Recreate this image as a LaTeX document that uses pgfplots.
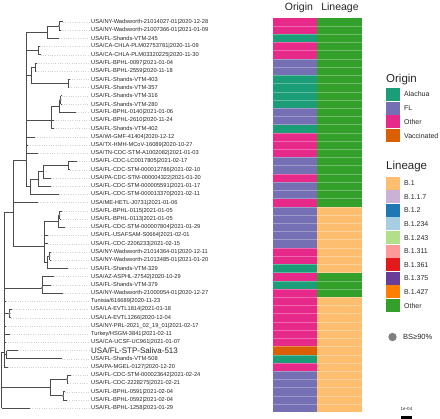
\documentclass[border=0pt]{standalone}
\usepackage{pgfplots}
\pgfplotsset{compat=1.18}
\usepackage{fontspec}
\setmainfont{Liberation Sans}
\definecolor{cAla}{HTML}{1B9E77}
\definecolor{cFL}{HTML}{7570B3}
\definecolor{cOth}{HTML}{E7298A}
\definecolor{cVac}{HTML}{D95F02}
\definecolor{lB1}{HTML}{FDBF6F}
\definecolor{lB117}{HTML}{CAB2D6}
\definecolor{lB12}{HTML}{1F78B4}
\definecolor{lB1234}{HTML}{A6CEE3}
\definecolor{lB1243}{HTML}{B2DF8A}
\definecolor{lB1311}{HTML}{FB9A99}
\definecolor{lB1361}{HTML}{E31A1C}
\definecolor{lB1375}{HTML}{6A3D9A}
\definecolor{lB1427}{HTML}{FF7F00}
\definecolor{lOth}{HTML}{33A02C}
\begin{document}
\begin{tikzpicture}
\begin{axis}[hide axis, scale only axis, width=440pt, height=419pt,
  xmin=0, xmax=440, ymin=0, ymax=419, y dir=reverse, clip=false,
  unbounded coords=jump, at={(0,0)}, anchor=south west]
% ---------- leader lines (tip -> label) ----------
\addplot[gray!35, dotted, line width=0.35pt] coordinates {
(63,21.8)(89,21.8) (nan,nan) (60.5,30.02)(89,30.02) (nan,nan) (59,38.24)(89,38.24) (nan,nan)
(39.5,46.46)(89,46.46) (nan,nan) (40.5,54.68)(89,54.68) (nan,nan) (36.5,62.9)(89,62.9) (nan,nan)
(36,71.12)(89,71.12) (nan,nan) (69.5,79.34)(89,79.34) (nan,nan) (69,87.56)(89,87.56) (nan,nan)
(61.5,95.78)(89,95.78) (nan,nan) (61.5,104)(89,104) (nan,nan) (76,112.22)(89,112.22) (nan,nan)
(53.5,120.44)(89,120.44) (nan,nan) (53.5,128.66)(89,128.66) (nan,nan) (35,136.88)(89,136.88) (nan,nan)
(27.5,145.1)(89,145.1) (nan,nan) (38,153.32)(89,153.32) (nan,nan) (77,161.54)(89,161.54) (nan,nan)
(70,169.76)(89,169.76) (nan,nan) (51,177.98)(89,177.98) (nan,nan) (51,186.2)(89,186.2) (nan,nan)
(59,194.42)(89,194.42) (nan,nan) (38,202.64)(89,202.64) (nan,nan) (61.5,210.86)(89,210.86) (nan,nan)
(61,219.08)(89,219.08) (nan,nan) (65,227.3)(89,227.3) (nan,nan) (47.5,235.52)(89,235.52) (nan,nan)
(48,243.74)(89,243.74) (nan,nan) (51,251.96)(89,251.96) (nan,nan) (50.5,260.18)(89,260.18) (nan,nan)
(68,268.4)(89,268.4) (nan,nan) (54,276.62)(89,276.62) (nan,nan) (51,284.84)(89,284.84) (nan,nan)
(63,293.06)(89,293.06) (nan,nan) (6,301.28)(89,301.28) (nan,nan) (11.5,309.5)(89,309.5) (nan,nan)
(11,317.72)(89,317.72) (nan,nan) (6,325.94)(89,325.94) (nan,nan) (9.5,334.16)(89,334.16) (nan,nan)
(5.5,342.38)(89,342.38) (nan,nan) (18,350.6)(89,350.6) (nan,nan) (62,358.82)(89,358.82) (nan,nan)
(7.5,367.04)(89,367.04) (nan,nan) (71,375.26)(89,375.26) (nan,nan) (68,383.48)(89,383.48) (nan,nan)
(64.5,391.7)(89,391.7) (nan,nan) (67,399.92)(89,399.92) (nan,nan) (30,408.14)(89,408.14)
};
% ---------- tree ----------
\addplot[black!70, line width=0.65pt] coordinates {
(1.7,352)(1.7,408.14) (nan,nan)
(1.7,352)(4,352) (nan,nan) (1.7,387.6)(50,387.6) (nan,nan) (1.7,408.14)(30,408.14) (nan,nan)
(4,212)(4,367.04) (nan,nan)
(4,212)(13,212) (nan,nan) (4,288)(42,288) (nan,nan) (4,301.28)(6,301.28) (nan,nan)
(4,313.6)(9.5,313.6) (nan,nan) (4,325.94)(6,325.94) (nan,nan) (4,334.16)(9.5,334.16) (nan,nan)
(4,342.38)(5.5,342.38) (nan,nan) (4,354.7)(6.5,354.7) (nan,nan) (4,367.04)(7.5,367.04) (nan,nan)
(13,160)(13,246) (nan,nan)
(13,160)(26,160) (nan,nan) (13,202.64)(38,202.64) (nan,nan) (13,246)(44,246) (nan,nan)
(26,32.07)(26,186.7) (nan,nan)
(26,32.07)(47,32.07) (nan,nan) (26,50.57)(38,50.57) (nan,nan) (26,75.2)(31,75.2) (nan,nan)
(26,120.44)(51,120.44) (nan,nan) (26,136.88)(35,136.88) (nan,nan) (26,145.1)(27.5,145.1) (nan,nan)
(26,153.32)(38,153.32) (nan,nan) (26,186.7)(30,186.7) (nan,nan)
(47,25.9)(47,38.24) (nan,nan) (47,25.9)(59,25.9) (nan,nan) (47,38.24)(59,38.24) (nan,nan)
(59,21.8)(59,30.02) (nan,nan) (59,21.8)(63,21.8) (nan,nan) (59,30.02)(60.5,30.02) (nan,nan)
(38,46.46)(38,54.68) (nan,nan) (38,46.46)(39.5,46.46) (nan,nan) (38,54.68)(40.5,54.68) (nan,nan)
(31,67)(31,83.45) (nan,nan) (31,67)(35,67) (nan,nan) (31,83.45)(68,83.45) (nan,nan)
(35,62.9)(35,71.12) (nan,nan) (35,62.9)(36.5,62.9) (nan,nan) (35,71.12)(36,71.12) (nan,nan)
(68,79.34)(68,87.56) (nan,nan) (68,79.34)(69.5,79.34) (nan,nan) (68,87.56)(69,87.56) (nan,nan)
(51,106)(51,128.66) (nan,nan) (51,106)(59,106) (nan,nan) (51,120.44)(53.5,120.44) (nan,nan) (51,128.66)(53.5,128.66) (nan,nan)
(59,99.9)(59,112.22) (nan,nan) (59,99.9)(60.5,99.9) (nan,nan) (59,112.22)(76,112.22) (nan,nan)
(60.5,95.78)(60.5,104) (nan,nan) (60.5,95.78)(61.5,95.78) (nan,nan) (60.5,104)(61.5,104) (nan,nan)
(30,179)(30,194.42) (nan,nan) (30,179)(38,179) (nan,nan) (30,194.42)(59,194.42) (nan,nan)
(38,171.8)(38,186.2) (nan,nan) (38,171.8)(43,171.8) (nan,nan) (38,186.2)(51,186.2) (nan,nan)
(43,165.65)(43,177.98) (nan,nan) (43,165.65)(68,165.65) (nan,nan) (43,177.98)(51,177.98) (nan,nan)
(68,161.54)(68,169.76) (nan,nan) (68,161.54)(77,161.54) (nan,nan) (68,169.76)(70,169.76) (nan,nan)
(44,221.1)(44,262.2) (nan,nan) (44,221.1)(58,221.1) (nan,nan) (44,235.52)(47.5,235.52) (nan,nan)
(44,243.74)(48,243.74) (nan,nan) (44,262.2)(47,262.2) (nan,nan)
(58,214.97)(58,227.3) (nan,nan) (58,214.97)(59.5,214.97) (nan,nan) (58,227.3)(65,227.3) (nan,nan)
(59.5,210.86)(59.5,219.08) (nan,nan) (59.5,210.86)(61.5,210.86) (nan,nan) (59.5,219.08)(61,219.08) (nan,nan)
(47,256.07)(47,268.4) (nan,nan) (47,256.07)(49.5,256.07) (nan,nan) (47,268.4)(68,268.4) (nan,nan)
(49.5,251.96)(49.5,260.18) (nan,nan) (49.5,251.96)(51,251.96) (nan,nan) (49.5,260.18)(50.5,260.18) (nan,nan)
(42,276.62)(42,293.06) (nan,nan) (42,276.62)(54,276.62) (nan,nan) (42,284.84)(51,284.84) (nan,nan) (42,293.06)(63,293.06) (nan,nan)
(9.5,309.5)(9.5,317.72) (nan,nan) (9.5,309.5)(11.5,309.5) (nan,nan) (9.5,317.72)(11,317.72) (nan,nan)
(6.5,350.6)(6.5,358.82) (nan,nan) (6.5,350.6)(18,350.6) (nan,nan) (6.5,358.82)(62,358.82) (nan,nan)
(50,379.37)(50,395.8) (nan,nan) (50,379.37)(67,379.37) (nan,nan) (50,395.8)(63,395.8) (nan,nan)
(67,375.26)(67,383.48) (nan,nan) (67,375.26)(71,375.26) (nan,nan) (67,383.48)(68,383.48) (nan,nan)
(63,391.7)(63,399.92) (nan,nan) (63,391.7)(64.5,391.7) (nan,nan) (63,399.92)(67,399.92)
};
% bootstrap >= 90 marks
\addplot[only marks, mark=*, mark size=0.9pt, color=gray, mark options={fill=gray}] coordinates {
(59,25.9) (60.5,99.9) (59.5,214.97) (49.5,256.07) (42,288) (9.5,313.6) (67,379.37) (63,395.8)
};
% ---------- heatmap: Origin ----------
\addplot[draw=none, fill=cOth] coordinates {(273.3,17.69)(317.3,17.69)(317.3,34.13)(273.3,34.13)} --cycle;
\addplot[draw=none, fill=cAla] coordinates {(273.3,34.13)(317.3,34.13)(317.3,42.35)(273.3,42.35)} --cycle;
\addplot[draw=none, fill=cOth] coordinates {(273.3,42.35)(317.3,42.35)(317.3,58.79)(273.3,58.79)} --cycle;
\addplot[draw=none, fill=cFL] coordinates {(273.3,58.79)(317.3,58.79)(317.3,75.23)(273.3,75.23)} --cycle;
\addplot[draw=none, fill=cAla] coordinates {(273.3,75.23)(317.3,75.23)(317.3,108.11)(273.3,108.11)} --cycle;
\addplot[draw=none, fill=cFL] coordinates {(273.3,108.11)(317.3,108.11)(317.3,124.55)(273.3,124.55)} --cycle;
\addplot[draw=none, fill=cAla] coordinates {(273.3,124.55)(317.3,124.55)(317.3,132.77)(273.3,132.77)} --cycle;
\addplot[draw=none, fill=cOth] coordinates {(273.3,132.77)(317.3,132.77)(317.3,157.43)(273.3,157.43)} --cycle;
\addplot[draw=none, fill=cFL] coordinates {(273.3,157.43)(317.3,157.43)(317.3,173.87)(273.3,173.87)} --cycle;
\addplot[draw=none, fill=cOth] coordinates {(273.3,173.87)(317.3,173.87)(317.3,182.09)(273.3,182.09)} --cycle;
\addplot[draw=none, fill=cFL] coordinates {(273.3,182.09)(317.3,182.09)(317.3,198.53)(273.3,198.53)} --cycle;
\addplot[draw=none, fill=cOth] coordinates {(273.3,198.53)(317.3,198.53)(317.3,206.75)(273.3,206.75)} --cycle;
\addplot[draw=none, fill=cFL] coordinates {(273.3,206.75)(317.3,206.75)(317.3,247.85)(273.3,247.85)} --cycle;
\addplot[draw=none, fill=cOth] coordinates {(273.3,247.85)(317.3,247.85)(317.3,264.29)(273.3,264.29)} --cycle;
\addplot[draw=none, fill=cAla] coordinates {(273.3,264.29)(317.3,264.29)(317.3,272.51)(273.3,272.51)} --cycle;
\addplot[draw=none, fill=cOth] coordinates {(273.3,272.51)(317.3,272.51)(317.3,280.73)(273.3,280.73)} --cycle;
\addplot[draw=none, fill=cAla] coordinates {(273.3,280.73)(317.3,280.73)(317.3,288.95)(273.3,288.95)} --cycle;
\addplot[draw=none, fill=cOth] coordinates {(273.3,288.95)(317.3,288.95)(317.3,346.49)(273.3,346.49)} --cycle;
\addplot[draw=none, fill=cVac] coordinates {(273.3,346.49)(317.3,346.49)(317.3,354.71)(273.3,354.71)} --cycle;
\addplot[draw=none, fill=cAla] coordinates {(273.3,354.71)(317.3,354.71)(317.3,362.93)(273.3,362.93)} --cycle;
\addplot[draw=none, fill=cOth] coordinates {(273.3,362.93)(317.3,362.93)(317.3,371.15)(273.3,371.15)} --cycle;
\addplot[draw=none, fill=cFL] coordinates {(273.3,371.15)(317.3,371.15)(317.3,412.25)(273.3,412.25)} --cycle;
% ---------- heatmap: Lineage ----------
\addplot[draw=none, fill=lOth] coordinates {(317.3,17.69)(362.3,17.69)(362.3,206.75)(317.3,206.75)} --cycle;
\addplot[draw=none, fill=lB1] coordinates {(317.3,206.75)(362.3,206.75)(362.3,272.51)(317.3,272.51)} --cycle;
\addplot[draw=none, fill=lOth] coordinates {(317.3,272.51)(362.3,272.51)(362.3,297.17)(317.3,297.17)} --cycle;
\addplot[draw=none, fill=lB1] coordinates {(317.3,297.17)(362.3,297.17)(362.3,412.25)(317.3,412.25)} --cycle;
% row separators
\pgfplotsinvokeforeach{1,...,47}{
  \draw[white, opacity=0.3, line width=0.3pt] (axis cs:273.3,{17.69+#1*8.22}) -- (axis cs:362.3,{17.69+#1*8.22});
}
% column titles
\node[font=\fontsize{10.5}{12}\selectfont, text=black!85] at (axis cs:299,8) {Origin};
\node[font=\fontsize{10.5}{12}\selectfont, text=black!85] at (axis cs:340,8) {Lineage};
% ---------- tip labels ----------
\begin{scope}[every node/.style={anchor=west, inner sep=0pt, text=black!85, font=\fontsize{5.7}{6}\selectfont}]
\node at (axis cs:91,21.8) {USA/NY-Wadsworth-21014027-01|2020-12-28};
\node at (axis cs:91,30.02) {USA/NY-Wadsworth-21007366-01|2021-01-09};
\node at (axis cs:91,38.24) {USA/FL-Shands-VTM-245};
\node at (axis cs:91,46.46) {USA/CA-CHLA-PLM02753781|2020-11-09};
\node at (axis cs:91,54.68) {USA/CA-CHLA-PLM03320225|2020-11-30};
\node at (axis cs:91,62.9) {USA/FL-BPHL-0097|2021-01-04};
\node at (axis cs:91,71.12) {USA/FL-BPHL-2559|2020-11-18};
\node at (axis cs:91,79.34) {USA/FL-Shands-VTM-403};
\node at (axis cs:91,87.56) {USA/FL-Shands-VTM-357};
\node at (axis cs:91,95.78) {USA/FL-Shands-VTM-316};
\node at (axis cs:91,104) {USA/FL-Shands-VTM-280};
\node at (axis cs:91,112.22) {USA/FL-BPHL-0140|2021-01-06};
\node at (axis cs:91,120.44) {USA/FL-BPHL-2610|2020-11-24};
\node at (axis cs:91,128.66) {USA/FL-Shands-VTM-402};
\node at (axis cs:91,136.88) {USA/WI-GMF-41404|2020-12-12};
\node at (axis cs:91,145.1) {USA/TX-HMH-MCoV-16089|2020-10-27};
\node at (axis cs:91,153.32) {USA/TN-CDC-STM-A1002082|2021-01-03};
\node at (axis cs:91,161.54) {USA/FL-CDC-LC0017805|2021-02-17};
\node at (axis cs:91,169.76) {USA/FL-CDC-STM-000012786|2021-02-10};
\node at (axis cs:91,177.98) {USA/PA-CDC-STM-000004322|2021-01-20};
\node at (axis cs:91,186.2) {USA/FL-CDC-STM-000005591|2021-01-17};
\node at (axis cs:91,194.42) {USA/FL-CDC-STM-000013370|2021-02-11};
\node at (axis cs:91,202.64) {USA/ME-HETL-J0731|2021-01-06};
\node at (axis cs:91,210.86) {USA/FL-BPHL-0115|2021-01-05};
\node at (axis cs:91,219.08) {USA/FL-BPHL-0113|2021-01-05};
\node at (axis cs:91,227.3) {USA/FL-CDC-STM-000007804|2021-01-29};
\node at (axis cs:91,235.52) {USA/FL-USAFSAM-S0664|2021-02-01};
\node at (axis cs:91,243.74) {USA/FL-CDC-2206233|2021-02-15};
\node at (axis cs:91,251.96) {USA/NY-Wadsworth-21014364-01|2020-12-11};
\node at (axis cs:91,260.18) {USA/NY-Wadsworth-21013485-01|2021-01-20};
\node at (axis cs:91,268.4) {USA/FL-Shands-VTM-329};
\node at (axis cs:91,276.62) {USA/AZ-ASPHL-27542|2020-10-29};
\node at (axis cs:91,284.84) {USA/FL-Shands-VTM-379};
\node at (axis cs:91,293.06) {USA/NY-Wadsworth-21000054-01|2020-12-27};
\node at (axis cs:91,301.28) {Tunisia/616689|2020-11-23};
\node at (axis cs:91,309.5) {USA/LA-EVTL1814|2021-01-18};
\node at (axis cs:91,317.72) {USA/LA-EVTL1266|2020-12-04};
\node at (axis cs:91,325.94) {USA/NY-PRL-2021\_02\_19\_01|2021-02-17};
\node at (axis cs:91,334.16) {Turkey/HSGM-3841|2021-02-11};
\node at (axis cs:91,342.38) {USA/CA-UCSF-UC961|2021-01-07};
\node[font=\fontsize{8}{9}\selectfont] at (axis cs:91,350.6) {USA/FL-STP-Saliva-513};
\node at (axis cs:91,358.82) {USA/FL-Shands-VTM-508};
\node at (axis cs:91,367.04) {USA/PA-MGEL-0127|2020-12-20};
\node at (axis cs:91,375.26) {USA/FL-CDC-STM-000023642|2021-02-24};
\node at (axis cs:91,383.48) {USA/FL-CDC-2228275|2021-02-21};
\node at (axis cs:91,391.7) {USA/FL-BPHL-0591|2021-02-04};
\node at (axis cs:91,399.92) {USA/FL-BPHL-0592|2021-02-04};
\node at (axis cs:91,408.14) {USA/FL-BPHL-1258|2021-01-29};
\end{scope}
% ---------- legends ----------
\node[anchor=west, inner sep=0pt, font=\fontsize{11.5}{12}\selectfont, text=black!85] at (axis cs:386,80) {Origin};
\fill[cAla] (axis cs:386,88) rectangle (axis cs:400,101);
\fill[cFL]  (axis cs:386,101.7) rectangle (axis cs:400,114.7);
\fill[cOth] (axis cs:386,115.4) rectangle (axis cs:400,128.4);
\fill[cVac] (axis cs:386,129.1) rectangle (axis cs:400,142.1);
\begin{scope}[every node/.style={anchor=west, inner sep=0pt, text=black!85, font=\fontsize{7}{8}\selectfont}]
\node at (axis cs:404,94.5) {Alachua};
\node at (axis cs:404,108.2) {FL};
\node at (axis cs:404,121.9) {Other};
\node at (axis cs:404,135.6) {Vaccinated};
\end{scope}
\node[anchor=west, inner sep=0pt, font=\fontsize{11.5}{12}\selectfont, text=black!85] at (axis cs:386,166.7) {Lineage};
\fill[lB1]    (axis cs:386,176.7) rectangle (axis cs:400,189.7);
\fill[lB117]  (axis cs:386,190.3) rectangle (axis cs:400,203.3);
\fill[lB12]   (axis cs:386,203.9) rectangle (axis cs:400,216.9);
\fill[lB1234] (axis cs:386,217.5) rectangle (axis cs:400,230.5);
\fill[lB1243] (axis cs:386,231.1) rectangle (axis cs:400,244.1);
\fill[lB1311] (axis cs:386,244.7) rectangle (axis cs:400,257.7);
\fill[lB1361] (axis cs:386,258.3) rectangle (axis cs:400,271.3);
\fill[lB1375] (axis cs:386,271.9) rectangle (axis cs:400,284.9);
\fill[lB1427] (axis cs:386,285.5) rectangle (axis cs:400,298.5);
\fill[lOth]   (axis cs:386,299.1) rectangle (axis cs:400,312.1);
\begin{scope}[every node/.style={anchor=west, inner sep=0pt, text=black!85, font=\fontsize{7}{8}\selectfont}]
\node at (axis cs:404,183.2) {B.1};
\node at (axis cs:404,196.8) {B.1.1.7};
\node at (axis cs:404,210.4) {B.1.2};
\node at (axis cs:404,224) {B.1.234};
\node at (axis cs:404,237.6) {B.1.243};
\node at (axis cs:404,251.2) {B.1.311};
\node at (axis cs:404,264.8) {B.1.361};
\node at (axis cs:404,278.4) {B.1.375};
\node at (axis cs:404,292) {B.1.427};
\node at (axis cs:404,305.6) {Other};
\end{scope}
\fill[gray] (axis cs:392.5,337) circle[radius=4.2pt];
\node[anchor=west, inner sep=0pt, text=black!85, font=\fontsize{7.5}{8}\selectfont] at (axis cs:403,337) {BS≥90\%};
% scale bar
\node[inner sep=0pt, text=black!85, font=\fontsize{4.5}{5}\selectfont] at (axis cs:406.5,408.5) {1e-04};
\draw[black, line width=3pt] (axis cs:401,417.5) -- (axis cs:412,417.5);
\end{axis}
\pgfresetboundingbox
\path (current axis.south west) rectangle (current axis.north east);
\end{tikzpicture}
\end{document}
